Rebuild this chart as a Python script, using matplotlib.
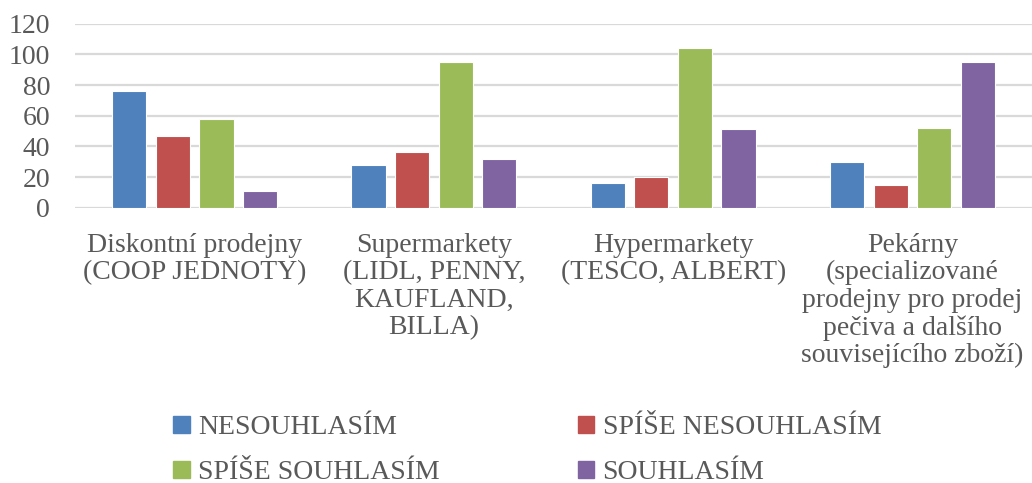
import matplotlib
matplotlib.use("Agg")
import matplotlib.pyplot as plt
from matplotlib.patches import Patch
import numpy as np

categories = [
    "Diskontní prodejny\n(COOP JEDNOTY)",
    "Supermarkety\n(LIDL, PENNY,\nKAUFLAND,\nBILLA)",
    "Hypermarkety\n(TESCO, ALBERT)",
    "Pekárny\n(specializované\nprodejny pro prodej\npečiva a dalšího\nsouvisejícího zboží)",
]
series_names = ["NESOUHLASÍM", "SPÍŠE NESOUHLASÍM", "SPÍŠE SOUHLASÍM", "SOUHLASÍM"]
nesouhlasim = [76, 28, 16, 30]
spise_nesouhlasim = [47, 36, 20, 15]
spise_souhlasim = [58, 95, 104, 52]
souhlasim = [11, 32, 51, 95]
y_ticks = [0, 20, 40, 60, 80, 100, 120]

series = [nesouhlasim, spise_nesouhlasim, spise_souhlasim, souhlasim]
colors = ["#4F81BD", "#C0504D", "#9BBB59", "#8064A2"]
text_color = "#595959"

plt.rcParams["font.family"] = ["Liberation Serif", "DejaVu Serif"]

fig = plt.figure(figsize=(10.32, 4.83), dpi=100)
ax = fig.add_axes([0.0727, 0.570, 0.9273, 0.381])

x = np.arange(len(categories))
width = 0.143
pitch = 0.182
handles = []
for i, (vals, name, col) in enumerate(zip(series, series_names, colors)):
    offs = (i - 1.5) * pitch
    ax.bar(x + offs, vals, width, color=col, edgecolor="white", linewidth=0.8,
           label=name, zorder=3)
    handles.append(Patch(facecolor=col, edgecolor=col, label=name))

ax.set_xlim(-0.5, len(categories) - 0.5)
ax.set_ylim(0, 120)
ax.set_yticks(y_ticks)
ax.set_xticks(x)
ax.set_xticklabels(categories, fontsize=20, color=text_color, linespacing=1.13,
                   va="top")
ax.tick_params(axis="y", labelsize=20, labelcolor=text_color, length=0, pad=18)
ax.tick_params(axis="x", length=0, pad=18)
ax.yaxis.grid(True, color="#D9D9D9", linewidth=1.6, zorder=0)
for s in ax.spines.values():
    s.set_visible(False)

order = [0, 2, 1, 3]
leg = fig.legend([handles[k] for k in order], [series_names[k] for k in order],
                 ncol=2, loc="upper left", bbox_to_anchor=(0.168, 0.140),
                 frameon=False, fontsize=20, handlelength=0.6, handleheight=0.6,
                 handletextpad=0.3, columnspacing=4.95, labelspacing=0.72,
                 borderaxespad=0, borderpad=0)
for t in leg.get_texts():
    t.set_color(text_color)

fig.savefig("out.png", dpi=100)
